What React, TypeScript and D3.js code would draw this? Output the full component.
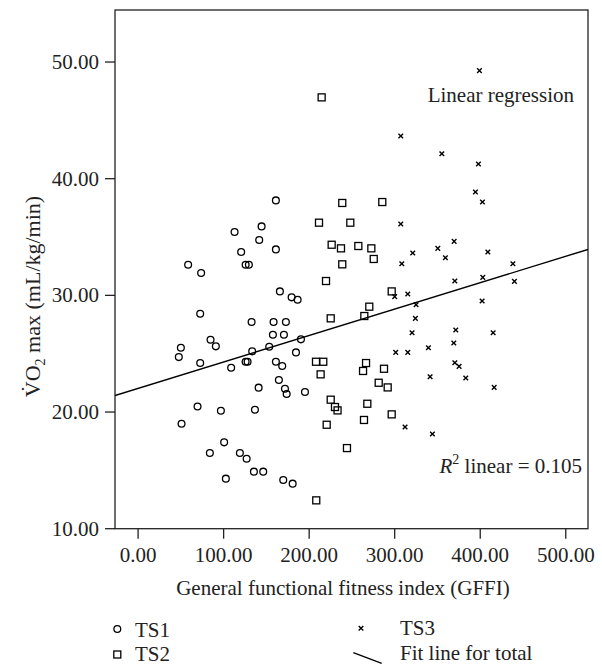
import React from "react";
import * as d3 from "d3";

const ts1Gffi = [144.4,112.8,141.6,120.5,58.5,125.7,129.5,73.7,72.6,132.7,84.7,90.9,50.0,47.6,133.4,153.3,72.6,125.7,128,108.8,140.9,69.5,96.8,136.6,50.8,100.6,83.9,119,126.9,135.4,146.3,102.6,169.7,180.7,161.1,161.1,165.8,179.5,186.5,158.4,172.8,157.6,170.5,190.4,184.6,161.1,168.5,164.6,171.7,173.7,195.1];
const ts1Vo2 = [35.91,35.43,34.74,33.72,32.63,32.63,32.63,31.92,28.43,27.72,26.2,25.63,25.51,24.71,25.2,25.6,24.2,24.31,24.31,23.8,22.09,20.48,20.11,20.2,19.0,17.4,16.49,16.49,16.0,14.89,14.89,14.29,14.17,13.86,38.14,33.94,30.34,29.83,29.63,27.72,27.72,26.63,26.63,26.23,25.11,24.31,23.94,22.74,22.0,21.54,21.72];

const ts2Gffi = [214.6,238.7,285.5,211.5,248.1,226.3,237.2,257.5,272.7,275.5,238.7,219.7,296.5,270.3,264.5,225.2,208,216.5,266.5,263,287.5,213.4,281.3,291.8,225.2,230.2,233.2,268,296.5,264.1,220.5,244.2,208.3];
const ts2Vo2 = [46.97,37.92,38.0,36.23,36.23,34.34,34.03,34.23,34.03,33.12,32.66,31.23,30.34,29.03,28.23,28.03,24.31,24.31,24.2,23.52,23.71,23.23,22.51,22.11,21.06,20.43,20.14,20.71,19.8,19.32,18.91,16.91,12.43];

const ts3Gffi = [399.1,307.1,355.1,397.9,394.4,402.6,307.1,369.5,350.4,321.1,359.3,408.9,308.3,438.2,370.3,403,440,300,315.3,402.2,325,324.2,320.3,371.4,415.1,369.1,301.2,315.3,339.4,370.3,375.3,341.4,383.1,416.3,312.1,344.1];
const ts3Vo2 = [49.26,43.66,42.14,41.26,38.86,38.0,36.12,34.63,34.03,33.63,33.23,33.72,32.71,32.71,31.23,31.54,31.2,29.89,30.12,29.52,29.2,28.03,26.8,27.03,26.8,25.92,25.11,25.11,25.51,24.23,23.91,23.03,22.92,22.11,18.72,18.12];

const fitIntercept = 22.03;
const fitSlope = 0.02264;

const xTicks = [0, 100, 200, 300, 400, 500];
const yTicks = [10, 20, 30, 40, 50];
const xDomain = [-27, 526];
const yDomain = [10, 54.46];

const FONT = "'Liberation Serif', 'Times New Roman', serif";

export default function App() {
  const left = 115, right = 588, top = 10, bottom = 528.7;
  const x = d3.scaleLinear().domain(xDomain).range([left, right]);
  const y = d3.scaleLinear().domain(yDomain).range([bottom, top]);
  const fmt = d3.format(".2f");
  const fitLine = d3.line<number>().x((v) => x(v)).y((v) => y(fitIntercept + fitSlope * v));
  const r = 3.4;
  const sq = 7;
  const cr = 2.3;

  const cross = (cx: number, cy: number, key: any) => (
    <path key={key} d={`M${cx - cr},${cy - cr}L${cx + cr},${cy + cr}M${cx - cr},${cy + cr}L${cx + cr},${cy - cr}`} stroke="#000" strokeWidth={1.4} fill="none" />
  );

  return (
    <svg width={602} height={665} style={{ position: "absolute", left: 0, top: 0, background: "#fff" }} fontFamily={FONT}>
      <rect x={0} y={0} width={602} height={665} fill="#fff" />
      <defs>
        <clipPath id="plotClip">
          <rect x={left} y={top} width={right - left} height={bottom - top} />
        </clipPath>
      </defs>
      <rect x={left} y={top} width={right - left} height={bottom - top} fill="none" stroke="#222" strokeWidth={1.3} />
      {xTicks.map((t) => (
        <g key={"xt" + t}>
          <line x1={x(t)} x2={x(t)} y1={bottom} y2={bottom + 10} stroke="#222" strokeWidth={1.3} />
          <text x={x(t)} y={561.5} textAnchor="middle" fontSize={21} fill="#222">{fmt(t)}</text>
        </g>
      ))}
      {yTicks.map((t) => (
        <g key={"yt" + t}>
          <line x1={left - 10} x2={left} y1={y(t)} y2={y(t)} stroke="#222" strokeWidth={1.3} />
          <text x={99} y={y(t) + 7} textAnchor="end" fontSize={21} fill="#222">{fmt(t)}</text>
        </g>
      ))}
      <text x={343} y={595} textAnchor="middle" fontSize={21} fill="#222">General functional fitness index (GFFI)</text>
      <text transform="translate(40,296.5) rotate(-90)" textAnchor="middle" fontSize={22} fill="#222">
        <tspan>{"V\u0307O"}</tspan>
        <tspan fontSize={14} dy={5}>2</tspan>
        <tspan dy={-5}>{" max (mL/kg/min)"}</tspan>
      </text>

      <g clipPath="url(#plotClip)">
        <path d={fitLine([xDomain[0], xDomain[1]]) || ""} stroke="#000" strokeWidth={1.4} fill="none" />
        {ts1Gffi.map((g, i) => (
          <circle key={"c" + i} cx={x(g)} cy={y(ts1Vo2[i])} r={r} fill="none" stroke="#000" strokeWidth={1.3} />
        ))}
        {ts2Gffi.map((g, i) => (
          <rect key={"s" + i} x={x(g) - sq / 2} y={y(ts2Vo2[i]) - sq / 2} width={sq} height={sq} fill="none" stroke="#000" strokeWidth={1.3} />
        ))}
        {ts3Gffi.map((g, i) => cross(x(g), y(ts3Vo2[i]), "x" + i))}
      </g>

      <text x={427.7} y={101.7} fontSize={21} fill="#222">Linear regression</text>
      <text x={582} y={473} textAnchor="end" fontSize={21} fill="#222">
        <tspan fontStyle="italic">R</tspan>
        <tspan fontSize={14} dy={-9}>2</tspan>
        <tspan dy={9}>{" linear = 0.105"}</tspan>
      </text>

      <circle cx={117.3} cy={629} r={r} fill="none" stroke="#000" strokeWidth={1.3} />
      <text x={135} y={637} fontSize={21} fill="#222">TS1</text>
      <rect x={117.3 - sq / 2} y={654.5 - sq / 2} width={sq} height={sq} fill="none" stroke="#000" strokeWidth={1.3} />
      <text x={135} y={660.5} fontSize={21} fill="#222">TS2</text>
      {cross(361, 628.3, "legx")}
      <text x={400} y={635} fontSize={21} fill="#222">TS3</text>
      <line x1={353.3} y1={652.7} x2={381.7} y2={663.3} stroke="#000" strokeWidth={1.3} />
      <text x={400} y={660} fontSize={21} fill="#222">Fit line for total</text>
    </svg>
  );
}
